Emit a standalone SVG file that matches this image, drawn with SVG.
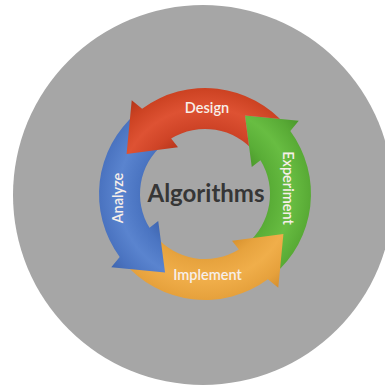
<svg xmlns="http://www.w3.org/2000/svg" xmlns:xlink="http://www.w3.org/1999/xlink" width="385" height="387" viewBox="0 0 385 387">
<style>
.lbl{font-family:Lato,"Open Sans","Liberation Sans",sans-serif;font-size:14.5px;font-weight:600;fill:#f7efe9;text-anchor:middle}
.center{font-family:Lato,"Open Sans","Liberation Sans",sans-serif;font-size:24px;font-weight:700;fill:#363636;text-anchor:middle}
</style>
<defs>
<path id="pRed" d="M286.20,125.86 A106,106 0 0 0 142.10,108.68 L131.73,100.23 L126.59,154.05 L178,147.23 L171.13,138.52 A65,65 0 0 1 254.79,152.22 Z"/>
<path id="pGreen" d="M273.14,275.20 A106,106 0 0 0 290.32,131.10 L298.77,120.73 L244.95,115.59 L251.77,167 L260.48,160.13 A65,65 0 0 1 246.78,243.79 Z"/>
<path id="pYellow" d="M123.80,262.14 A106,106 0 0 0 267.90,279.32 L278.27,287.77 L283.41,233.95 L232,240.77 L238.87,249.48 A65,65 0 0 1 155.21,235.78 Z"/>
<path id="pBlue" d="M136.86,112.80 A106,106 0 0 0 119.68,256.90 L111.23,267.27 L165.05,272.41 L158.23,221 L149.52,227.87 A65,65 0 0 1 163.22,144.21 Z"/>
<radialGradient id="gRed" gradientUnits="userSpaceOnUse" cx="205" cy="194" r="120">
<stop offset="0.45" stop-color="#b8361c"/><stop offset="0.56" stop-color="#cf4427"/><stop offset="0.72" stop-color="#de5233"/><stop offset="0.88" stop-color="#cc4222"/><stop offset="1" stop-color="#b0351a"/>
</radialGradient>
<radialGradient id="gGreen" gradientUnits="userSpaceOnUse" cx="205" cy="194" r="120">
<stop offset="0.45" stop-color="#4c9a2c"/><stop offset="0.56" stop-color="#5aae37"/><stop offset="0.72" stop-color="#68bd42"/><stop offset="0.88" stop-color="#58aa35"/><stop offset="1" stop-color="#4a962b"/>
</radialGradient>
<radialGradient id="gYellow" gradientUnits="userSpaceOnUse" cx="205" cy="194" r="120">
<stop offset="0.45" stop-color="#d8922f"/><stop offset="0.56" stop-color="#e7a33e"/><stop offset="0.72" stop-color="#f0ae4a"/><stop offset="0.88" stop-color="#e6a13c"/><stop offset="1" stop-color="#d48e2e"/>
</radialGradient>
<radialGradient id="gBlue" gradientUnits="userSpaceOnUse" cx="205" cy="194" r="120">
<stop offset="0.45" stop-color="#3f66b0"/><stop offset="0.56" stop-color="#4b75c2"/><stop offset="0.72" stop-color="#5a84cf"/><stop offset="0.88" stop-color="#4a73c0"/><stop offset="1" stop-color="#3e64ad"/>
</radialGradient>
<mask id="mRed" maskUnits="userSpaceOnUse" x="0" y="0" width="385" height="387">
<rect x="0" y="0" width="385" height="387" fill="#fff"/>
<use href="#pGreen" fill="#000"/>
</mask>
</defs>
<circle cx="203" cy="195" r="190" fill="#a6a6a6"/>
<g id="connectors">
<use id="arrow-experiment" href="#pGreen" fill="url(#gGreen)"/>
<use id="arrow-implement" href="#pYellow" fill="url(#gYellow)"/>
<use id="arrow-analyze" href="#pBlue" fill="url(#gBlue)"/>
<use id="arrow-design" href="#pRed" fill="url(#gRed)" mask="url(#mRed)"/>
</g>
<g id="node-design"><text class="lbl" x="207" y="113">Design</text></g>
<g id="node-experiment"><text class="lbl" transform="translate(283,188) rotate(90)">Experiment</text></g>
<g id="node-implement"><text class="lbl" x="207.5" y="280">Implement</text></g>
<g id="node-analyze"><text class="lbl" transform="translate(123,198) rotate(-90)">Analyze</text></g>
<g id="node-algorithms"><text class="center" x="206" y="202">Algorithms</text></g>
</svg>
